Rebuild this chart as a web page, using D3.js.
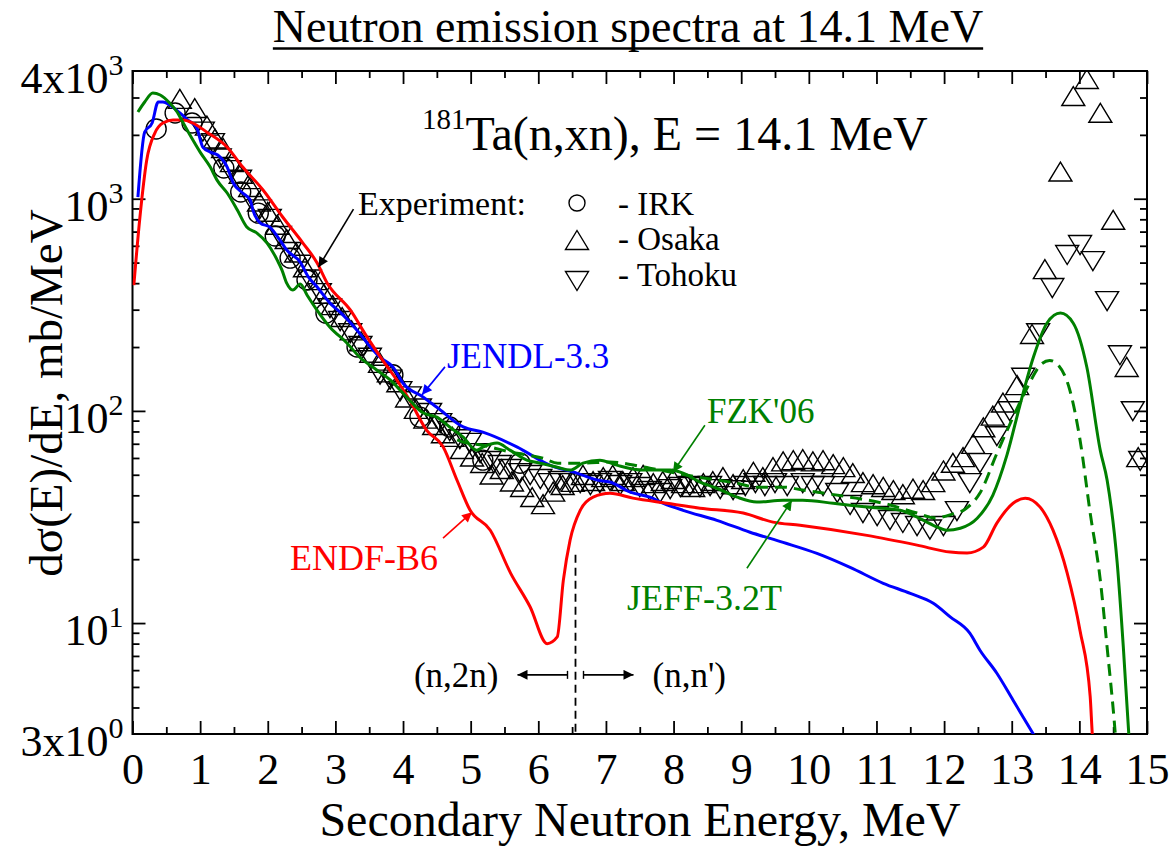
<!DOCTYPE html>
<html>
<head>
<meta charset="utf-8">
<script src="https://cdn.jsdelivr.net/npm/d3@7"></script>
<style>
  body { margin: 0; background: #fff; }
  text { font-family: "Liberation Serif", "Times New Roman", serif; }
</style>
</head>
<body>
<svg id="chart" width="1173" height="846"></svg>
<script>
// ---- data: [energy MeV, dsigma/dE mb/MeV] ----
var endfB6 = [[0.02,392],[0.11,820],[0.21,1520],[0.33,2040],[0.45,2275],[0.60,2350],[0.75,2350],[0.89,2275],
  [1.10,2060],[1.40,1750],[1.63,1410],[1.93,1100],[2.22,820],[2.52,618],[2.73,498],[2.88,400],[3.22,299],
  [3.46,225],[3.70,173],[3.92,138],[4.10,112],[4.35,81],[4.59,68],[4.80,47],[4.99,34.1],[5.29,27.4],
  [5.59,17.2],[5.88,11.9],[6.13,8.0],[6.28,8.6],[6.37,15.9],[6.47,24.6],[6.62,34],[6.81,39.2],[7.06,40.9],
  [7.40,38.8],[7.90,36.7],[8.39,34.8],[9.03,33.0],[9.47,29.9],[9.87,28.9],[10.86,25.9],[11.60,23.3],
  [12.09,21.6],[12.34,21.4],[12.58,22.8],[12.78,29.6],[13.02,36.7],[13.20,38.8],[13.42,35.2],[13.61,27.4],
  [13.82,17.2],[14.01,9.2],[14.16,4.5],[14.19,3.03],[14.22,2.26]];

var jendl33 = [[0.08,1018],[0.18,2060],[0.29,2275],[0.38,2857],[0.45,2857],[0.55,2767],[0.70,2537],[0.82,2350],
  [0.95,2153],[1.04,1752],[1.15,1659],[1.26,1607],[1.40,1410],[1.49,1186],[1.63,1064],[1.74,986],[1.78,885],
  [1.89,768],[2.03,735],[2.18,638],[2.28,573],[2.48,503],[2.60,428],[2.73,384],[2.92,322],[3.07,292],
  [3.32,240],[3.47,209],[3.66,179],[3.85,161],[4.00,135],[4.30,116],[4.50,104],[4.89,84],[5.18,79.4],
  [5.69,67.5],[6.17,55.5],[6.57,50.9],[6.87,47.2],[7.06,46.2],[7.36,41.4],[7.65,39.2],[7.85,36.7],[8.14,34.0],
  [8.64,30.5],[9.13,26.8],[9.62,24.0],[10.12,21.3],[10.61,18.3],[11.10,15.4],[11.50,13.8],[11.84,12.4],
  [12.09,10.7],[12.38,8.96],[12.53,7.45],[12.78,5.8],[13.02,4.33],[13.31,3.03],[13.42,2.65]];

var jeff32T = [[0.08,2564],[0.18,2857],[0.30,3150],[0.41,3083],[0.55,2825],[0.66,2564],[0.75,2275],[0.85,1997],
  [1.00,1659],[1.15,1410],[1.25,1224],[1.40,1064],[1.55,885],[1.69,736],[1.84,689],[1.99,618],[2.14,514],
  [2.21,461],[2.28,400],[2.37,371],[2.48,396],[2.58,352],[2.73,298],[2.92,248],[3.17,209],[3.36,179],
  [3.61,156],[3.81,140],[3.96,125],[4.10,112],[4.30,97.7],[4.50,93.5],[4.69,84],[4.89,75.2],[5.09,65.3],
  [5.18,67.5],[5.39,70.5],[5.58,65.3],[5.83,58.6],[6.03,56.7],[6.28,54.3],[6.47,52.6],[6.66,56.7],[6.91,58.6],
  [7.16,55.5],[7.55,52.6],[7.95,52.6],[8.14,50.9],[8.39,46.2],[8.64,43.2],[8.94,39.2],[9.23,37.2],[9.62,37.9],
  [9.91,37.9],[10.36,36.7],[10.86,35.2],[11.35,34.0],[11.60,31.6],[11.84,28.9],[12.04,27.4],[12.24,28.0],
  [12.49,31.2],[12.72,40.0],[12.93,62],[13.12,106],[13.32,179],[13.52,259],[13.72,289],[13.91,259],
  [14.11,161],[14.31,65],[14.41,47.2],[14.56,19.1],[14.65,7.7],[14.73,3.03],[14.76,2.26]];

var fzk06 = [[4.80,73],[4.89,71.3],[5.18,68.9],[5.58,64],[6.07,59.8],[6.29,56.7],[6.66,56.7],[7.06,57.4],
  [7.65,53.7],[8.35,48.8],[8.64,47.2],[8.94,45.6],[9.23,43.7],[9.62,43.7],[9.91,42.4],[10.21,41.0],
  [10.61,39.2],[11.10,36.7],[11.60,33.0],[11.87,31.3],[12.12,32.6],[12.31,34.4],[12.53,41],[12.78,63],
  [13.02,93.5],[13.23,129],[13.42,164],[13.56,173],[13.69,164],[13.86,125],[14.01,73],[14.16,33],
  [14.31,15.9],[14.41,7.7],[14.53,3.03],[14.56,2.26]];

var irk = [[0.35,2133],[0.63,2535],[0.88,2275],[1.35,1396],[1.60,1076],[1.86,855],[2.11,667],[2.33,525],
  [2.58,414],[2.86,289],[3.32,200],[3.85,148],[4.25,93.5],[4.69,84],[5.18,58.6],[5.73,56.7]];

var osaka = [[0.70,2860],[0.92,2590],[1.10,2140],[1.22,1860],[1.34,1680],[1.47,1440],[1.60,1270],[1.74,1100],
  [1.87,940],[2.00,840],[2.14,730],[2.28,625],[2.42,540],[2.55,460],[2.70,400],[2.83,345],[2.96,305],
  [3.10,268],[3.24,232],[3.38,206],[3.53,182],[3.66,163],[3.79,147],[3.93,132],[4.06,112],[4.19,99],
  [4.33,89],[4.46,83],[4.59,76],[4.73,73],[4.87,64],[5.02,59],[5.17,55],[5.31,48.5],[5.46,51.5],[5.61,45],
  [5.76,42.4],[5.91,38],[6.07,35.2],[6.22,40.3],[6.36,43.3],[6.51,44.8],[6.66,48.3],[6.81,45.2],[6.96,47.2],
  [7.10,48.3],[7.25,45.2],[7.40,47.2],[7.55,48.3],[7.70,44.2],[7.84,45.2],[7.99,46.2],[8.14,44.2],[8.29,42.4],
  [8.44,44.2],[8.58,45.2],[8.73,47.2],[8.88,43.7],[9.03,46.2],[9.18,50.0],[9.32,47.2],[9.47,52.6],[9.62,56.0],
  [9.77,56.7],[9.91,57.4],[10.06,56.0],[10.21,56.7],[10.36,54.3],[10.51,52.6],[10.65,49.3],[10.80,44.7],
  [10.95,43.7],[11.10,42.4],[11.25,41.0],[11.39,39.2],[11.54,41.6],[11.69,41.0],[11.84,44.7],[11.99,50.7],
  [12.13,55.1],[12.28,58.6],[12.43,67.7],[12.58,81],[12.72,92],[12.87,106],[13.08,128],[13.30,223],
  [13.49,451],[13.72,1300],[13.91,2950],[14.11,3550],[14.31,2460],[14.50,770],[14.70,156],[14.87,58.6]];

var tohoku = [[1.04,2140],[1.19,1890],[1.29,1600],[1.44,1410],[1.59,1270],[1.74,1040],[1.88,920],[2.03,830],
  [2.18,690],[2.33,580],[2.48,505],[2.62,430],[2.77,371],[2.92,315],[3.07,274],[3.22,240],[3.37,209],
  [3.51,184],[3.66,153],[3.81,145],[3.96,128],[4.10,121],[4.25,106],[4.40,101],[4.55,90.5],[4.69,83],
  [4.84,76],[4.99,73],[5.14,65.3],[5.28,60],[5.43,57.4],[5.58,55],[5.73,52.6],[5.88,51.5],[6.03,49.3],
  [6.17,47.2],[6.32,48.3],[6.47,47.2],[6.62,47.2],[6.77,46.2],[6.91,47.2],[7.06,48.3],[7.21,46.2],[7.36,47.2],
  [7.50,45.2],[7.65,43.3],[7.80,42.4],[7.95,44.2],[8.10,45.2],[8.24,45.7],[8.39,45.2],[8.54,45.7],[8.69,44.2],
  [8.88,43.7],[9.06,45.7],[9.21,47.2],[9.35,45.7],[9.50,47.2],[9.68,45.7],[9.91,47.2],[10.06,45.7],
  [10.21,45.7],[10.42,42.4],[10.61,37.2],[10.80,34.1],[11.01,33.0],[11.20,31.6],[11.39,30.6],[11.60,29.6],
  [11.79,28.5],[11.99,29.6],[12.19,34.8],[12.38,47.2],[12.53,58.6],[12.78,78.5],[12.97,103],[13.17,148],
  [13.39,240],[13.60,392],[13.82,561],[14.01,625],[14.20,525],[14.41,340],[14.60,189],[14.79,103],[14.90,60]];

var xMajor = d3.range(0, 16);
var xMinor = d3.range(0.5, 15, 1);
var yMajor = [10, 100, 1000];
var yMinor = [4,5,6,7,8,9,20,30,40,50,60,70,80,90,200,300,400,500,600,700,800,900,2000,3000];
var yLabels = [[4000, "4x10", "3"], [1000, "10", "3"], [100, "10", "2"], [10, "10", "1"], [3, "3x10", "0"]];

// ---- layout ----
var svg = d3.select("#chart");
var margin = {top: 71, right: 26, bottom: 112, left: 132.5},
    width = +svg.attr("width") - margin.left - margin.right,
    height = +svg.attr("height") - margin.top - margin.bottom;

var x = d3.scaleLinear().domain([0, 15]).range([0, width]),
    y = d3.scaleLog().domain([3, 4000]).range([height, 0]);

var g = svg.append("g")
    .attr("transform", "translate(" + margin.left + "," + margin.top + ")");

var defs = svg.append("defs");
defs.append("clipPath").attr("id", "plotclip")
  .append("rect").attr("width", width).attr("height", height);

function arrowHead(id, color) {
  defs.append("marker")
      .attr("id", id)
      .attr("viewBox", "0 0 10 10")
      .attr("refX", 10).attr("refY", 5)
      .attr("markerUnits", "userSpaceOnUse")
      .attr("markerWidth", 15).attr("markerHeight", 10)
      .attr("orient", "auto")
    .append("path").attr("d", "M0,0L10,5L0,10Z").attr("fill", color);
}
arrowHead("ah-black", "#000");
arrowHead("ah-blue", "#0000ff");
arrowHead("ah-green", "#008000");
arrowHead("ah-red", "#ff0000");

// ---- axes (ticks inward on all four sides) ----
function styleAxis(sel) {
  sel.select(".domain").remove();
  sel.selectAll(".tick line").attr("stroke", "#000").attr("stroke-width", 1.8);
  sel.selectAll(".tick text").attr("font-size", 44).attr("fill", "#000")
     .attr("font-family", "'Liberation Serif', serif");
}

g.append("g").attr("transform", "translate(0," + height + ")")
  .call(d3.axisBottom(x).tickValues(xMajor).tickSize(-13).tickPadding(19).tickFormat(d3.format("d")))
  .call(styleAxis);
g.append("g").attr("transform", "translate(0," + height + ")")
  .call(d3.axisBottom(x).tickValues(xMinor).tickSize(-7).tickFormat(""))
  .call(styleAxis);
g.append("g")
  .call(d3.axisTop(x).tickValues(xMajor).tickSize(-13).tickFormat(""))
  .call(styleAxis);
g.append("g")
  .call(d3.axisTop(x).tickValues(xMinor).tickSize(-7).tickFormat(""))
  .call(styleAxis);

g.append("g")
  .call(d3.axisLeft(y).tickValues(yMajor).tickSize(-13).tickFormat(""))
  .call(styleAxis);
g.append("g")
  .call(d3.axisLeft(y).tickValues(yMinor).tickSize(-7).tickFormat(""))
  .call(styleAxis);
g.append("g").attr("transform", "translate(" + width + ",0)")
  .call(d3.axisRight(y).tickValues(yMajor).tickSize(-13).tickFormat(""))
  .call(styleAxis);
g.append("g").attr("transform", "translate(" + width + ",0)")
  .call(d3.axisRight(y).tickValues(yMinor).tickSize(-7).tickFormat(""))
  .call(styleAxis);

// y tick labels with superscripts
yLabels.forEach(function(d) {
  var t = g.append("text")
      .attr("x", -9)
      .attr("y", y(d[0]) + 22)
      .attr("text-anchor", "end")
      .attr("font-size", 44);
  t.append("tspan").text(d[1]);
  t.append("tspan").attr("dy", -18).attr("font-size", 30).text(d[2]);
});

g.append("rect")
    .attr("width", width).attr("height", height)
    .attr("fill", "none").attr("stroke", "#000").attr("stroke-width", 2);

// ---- curves ----
var line = d3.line()
    .x(function(d) { return x(d[0]); })
    .y(function(d) { return y(d[1]); })
    .curve(d3.curveMonotoneX);

var plot = g.append("g").attr("clip-path", "url(#plotclip)");

function curve(data, color, dash) {
  plot.append("path")
      .datum(data)
      .attr("d", line)
      .attr("fill", "none")
      .attr("stroke", color)
      .attr("stroke-width", 3)
      .attr("stroke-linejoin", "round")
      .attr("stroke-dasharray", dash || null);
}

// ---- experimental points ----
var upTri = "M0,-12.5L11.5,6.5L-11.5,6.5Z",
    downTri = "M0,12.5L11.5,-6.5L-11.5,-6.5Z";

plot.selectAll(".osaka").data(osaka).enter().append("path")
    .attr("class", "osaka")
    .attr("d", upTri)
    .attr("transform", function(d) { return "translate(" + x(d[0]) + "," + y(d[1]) + ")"; })
    .attr("fill", "none").attr("stroke", "#000").attr("stroke-width", 1.4);

plot.selectAll(".tohoku").data(tohoku).enter().append("path")
    .attr("class", "tohoku")
    .attr("d", downTri)
    .attr("transform", function(d) { return "translate(" + x(d[0]) + "," + y(d[1]) + ")"; })
    .attr("fill", "none").attr("stroke", "#000").attr("stroke-width", 1.4);

plot.selectAll(".irk").data(irk).enter().append("circle")
    .attr("class", "irk")
    .attr("cx", function(d) { return x(d[0]); })
    .attr("cy", function(d) { return y(d[1]); })
    .attr("r", 10)
    .attr("fill", "none").attr("stroke", "#000").attr("stroke-width", 1.4);

curve(jendl33, "#0000ff");
curve(endfB6, "#ff0000");
curve(fzk06, "#008000", "12,7");
curve(jeff32T, "#008000");

// ---- (n,2n) / (n,n') threshold marker ----
var eThr = 6.55;
g.append("line")
    .attr("x1", x(eThr)).attr("x2", x(eThr))
    .attr("y1", y(21)).attr("y2", height)
    .attr("stroke", "#000").attr("stroke-width", 1.8).attr("stroke-dasharray", "8,5");

var yArr = y(5.7);
g.append("line").attr("x1", x(eThr) - 8).attr("x2", x(eThr) - 58)
    .attr("y1", yArr).attr("y2", yArr)
    .attr("stroke", "#000").attr("stroke-width", 1.6).attr("marker-end", "url(#ah-black)");
g.append("line").attr("x1", x(eThr) + 8).attr("x2", x(eThr) + 58)
    .attr("y1", yArr).attr("y2", yArr)
    .attr("stroke", "#000").attr("stroke-width", 1.6).attr("marker-end", "url(#ah-black)");
[-8, 8].forEach(function(o) {
  g.append("line").attr("x1", x(eThr) + o).attr("x2", x(eThr) + o)
      .attr("y1", yArr - 4).attr("y2", yArr + 4)
      .attr("stroke", "#000").attr("stroke-width", 1.4);
});
g.append("text").attr("x", x(eThr) - 77).attr("y", yArr + 12)
    .attr("text-anchor", "end").attr("font-size", 35).text("(n,2n)");
g.append("text").attr("x", x(eThr) + 77).attr("y", yArr + 12)
    .attr("font-size", 35).text("(n,n')");

// ---- annotations: label text, arrow tip on the curve (data units), tail offset ----
function note(label, color, marker, tip, dx, dy, tx, ty, size) {
  var px = x(tip[0]), py = y(tip[1]);
  g.append("line")
      .attr("x1", px + dx).attr("y1", py + dy)
      .attr("x2", px).attr("y2", py)
      .attr("stroke", color).attr("stroke-width", 1.6)
      .attr("marker-end", "url(#" + marker + ")");
  g.append("text")
      .attr("x", tx - margin.left).attr("y", ty - margin.top)
      .attr("fill", color).attr("font-size", size).text(label);
}
note("JENDL-3.3", "#0000ff", "ah-blue", [4.28, 119], 23, -28, 447, 368, 35);
note("FZK'06", "#008000", "ah-green", [7.99, 51.4], 32, -47, 707, 423, 35);
note("JEFF-3.2T", "#008000", "ah-green", [9.75, 37.9], -45, 68, 627, 610, 36);
note("ENDF-B6", "#ff0000", "ah-red", [5.02, 33.3], -29, 26, 290, 570, 36);

// experiment arrow + legend
var expTip = [2.75, 476];
g.append("line")
    .attr("x1", x(expTip[0]) + 35).attr("y1", y(expTip[1]) - 58)
    .attr("x2", x(expTip[0])).attr("y2", y(expTip[1]))
    .attr("stroke", "#000").attr("stroke-width", 1.6).attr("marker-end", "url(#ah-black)");

var leg = svg.append("g");
leg.append("text").attr("x", 358).attr("y", 215).attr("font-size", 34).text("Experiment:");
leg.append("circle").attr("cx", 577).attr("cy", 203).attr("r", 8)
    .attr("fill", "none").attr("stroke", "#000").attr("stroke-width", 1.4);
leg.append("path").attr("d", upTri).attr("transform", "translate(577,243)")
    .attr("fill", "none").attr("stroke", "#000").attr("stroke-width", 1.4);
leg.append("path").attr("d", downTri).attr("transform", "translate(577,278)")
    .attr("fill", "none").attr("stroke", "#000").attr("stroke-width", 1.4);
leg.append("text").attr("x", 618).attr("y", 215).attr("font-size", 33).text("- IRK");
leg.append("text").attr("x", 618).attr("y", 250).attr("font-size", 33).text("- Osaka");
leg.append("text").attr("x", 618).attr("y", 286).attr("font-size", 33).text("- Tohoku");

// reaction label
var rx = svg.append("text").attr("x", 422).attr("y", 150).attr("font-size", 48);
rx.append("tspan").attr("font-size", 29).attr("dy", -21).text("181");
rx.append("tspan").attr("dy", 21).text("Ta(n,xn), E = 14.1 MeV");

// ---- titles ----
var title = svg.append("text")
    .attr("x", 628).attr("y", 42)
    .attr("text-anchor", "middle").attr("font-size", 46)
    .text("Neutron emission spectra at 14.1 MeV");
var tw = title.node().getComputedTextLength();
svg.append("line")
    .attr("x1", 628 - tw / 2).attr("x2", 628 + tw / 2)
    .attr("y1", 48.5).attr("y2", 48.5)
    .attr("stroke", "#000").attr("stroke-width", 2.5);

svg.append("text")
    .attr("x", 640).attr("y", 836)
    .attr("text-anchor", "middle").attr("font-size", 48)
    .text("Secondary Neutron Energy, MeV");

svg.append("text")
    .attr("transform", "translate(62,393) rotate(-90)")
    .attr("text-anchor", "middle").attr("font-size", 47)
    .text("d\u03c3(E)/dE, mb/MeV");
</script>
</body>
</html>
